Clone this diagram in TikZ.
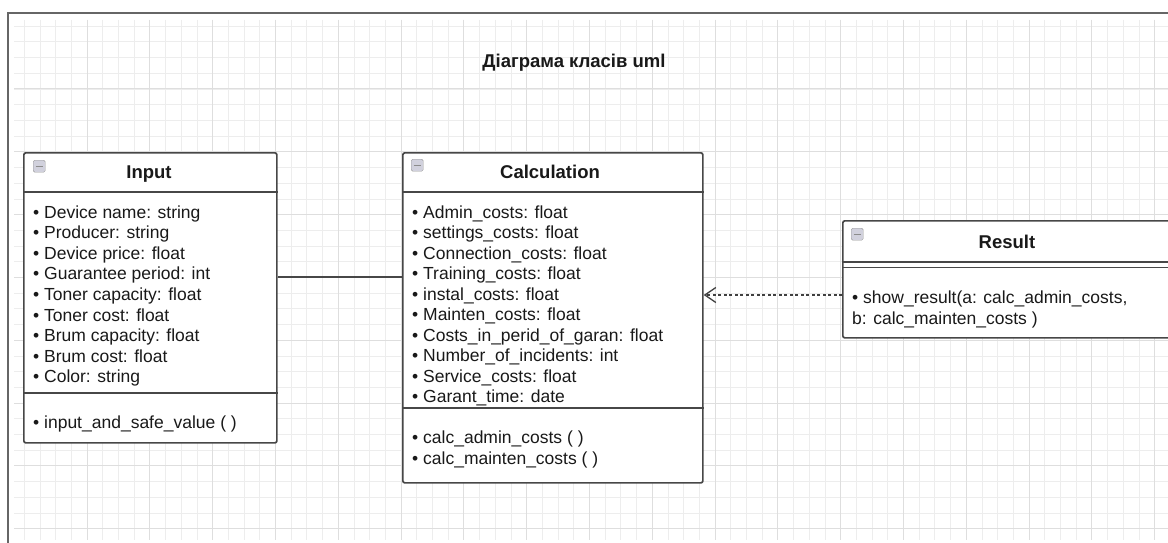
\documentclass[tikz,border=0pt]{standalone}
\usepackage{fontspec}
\setmainfont{Liberation Sans}
\usetikzlibrary{arrows.meta,calc}
\begin{document}
\begin{tikzpicture}[x=1pt,y=-1pt,
  minorgrid/.style={draw=black!7, line width=0.8pt},
  majorgrid/.style={draw=black!13, line width=1pt},
  frameline/.style={draw=black!60, line width=2.4pt},
  classbox/.style={draw=black!72, line width=1.7pt, fill=white, rounded corners=2pt, anchor=north west, inner sep=0pt},
  sepline/.style={draw=black!72, line width=1.7pt},
  depline/.style={draw=black!75, line width=1.2pt, dash pattern=on 3pt off 2.5pt, -{Straight Barb[length=11pt,width=15pt,line width=1.3pt]}},
  attr/.style={anchor=base west, inner sep=0pt, font=\fontsize{17.5}{20}\selectfont, text=black!90},
  head/.style={anchor=base, inner sep=0pt, font=\bfseries\fontsize{18.5}{20}\selectfont, text=black!90},
  diagtitle/.style={anchor=base, inner sep=0pt, font=\bfseries\fontsize{18.5}{20}\selectfont, text=black!90},
  icon/.style={draw=black!40, fill=blue!25!black!18, rounded corners=1.5pt, minimum width=12pt, minimum height=12pt, inner sep=0pt, anchor=north west,
    path picture={\draw[black!45, line width=0.8pt] ($(path picture bounding box.west)+(2.5,0)$) -- ($(path picture bounding box.east)+(-2.5,0)$);}},
]
\useasboundingbox (0,0) rectangle (1168,543);
\fill[white] (0,0) rectangle (1168,543);
\begin{scope}
\clip (0,0) rectangle (1168,543);
% grid
\foreach \i in {0,...,73} \draw[minorgrid] ({24.2+15.7*\i},20) -- ({24.2+15.7*\i},540);
\foreach \i in {0,...,32} \draw[minorgrid] (14,{26.2+15.7*\i}) -- (1168,{26.2+15.7*\i});
\foreach \i in {1,...,18} \draw[majorgrid] ({24.2+62.8*\i},20) -- ({24.2+62.8*\i},540);
\foreach \i in {1,...,8} \draw[majorgrid] (14,{26.2+62.8*\i}) -- (1168,{26.2+62.8*\i});
% frame
\draw[frameline] (8,600) -- (8,13) -- (1200,13);

% title
\node[diagtitle] (title) at (574,68) {Діаграма класів uml};

% Input class
\node[classbox, minimum width=253pt, minimum height=290pt] (input) at (23,152) {};
\draw[sepline] ($(input.north west)+(0,40)$) -- ($(input.north east)+(0,40)$);
\draw[sepline] ($(input.north west)+(0,241)$) -- ($(input.north east)+(0,241)$);
\node[icon] (iconin) at (33,160) {};
\node[head] (inputname) at (149,178.5) {Input};
\foreach \t [count=\i] in {Device name: string, Producer: string, Device price: float, Guarantee period: int, Toner capacity: float, Toner cost: float, Brum capacity: float, Brum cost: float, Color: string}
  \node[attr] (inattr\i) at (33,{218+20.6*(\i-1)}) {• \t};
\node[attr] (inmeth1) at (33,428) {• input\_and\_safe\_value ( )};

% Calculation class
\node[classbox, minimum width=300pt, minimum height=330pt] (calc) at (402,152) {};
\draw[sepline] ($(calc.north west)+(0,40)$) -- ($(calc.north east)+(0,40)$);
\draw[sepline] ($(calc.north west)+(0,256)$) -- ($(calc.north east)+(0,256)$);
\node[icon] (iconcalc) at (411,159) {};
\node[head] (calcname) at (550,178.5) {Calculation};
\foreach \t [count=\i] in {Admin\_costs: float, settings\_costs: float, Connection\_costs: float, Training\_costs: float, instal\_costs: float, Mainten\_costs: float, Costs\_in\_perid\_of\_garan: float, Number\_of\_incidents: int, Service\_costs: float, Garant\_time: date}
  \node[attr] (calcattr\i) at (412,{218+20.55*(\i-1)}) {• \t};
\node[attr] (calcmeth1) at (412,443) {• calc\_admin\_costs ( )};
\node[attr] (calcmeth2) at (412,464) {• calc\_mainten\_costs ( )};

% Result class
\node[classbox, minimum width=345pt, minimum height=117pt] (result) at (842,220) {};
\draw[sepline] ($(result.north west)+(0,42)$) -- ($(result.north east)+(0,42)$);
\draw[sepline] ($(result.north west)+(0,47.5)$) -- ($(result.north east)+(0,47.5)$);
\node[icon] (iconres) at (851,228) {};
\node[head] (resname) at (1007,248) {Result};
\node[attr] (resmeth1) at (852,303) {• show\_result(a: calc\_admin\_costs,};
\node[attr] (resmeth2) at (852,324) {b: calc\_mainten\_costs )};

% connectors
\draw[sepline] ($(input.north east)+(0,125)$) -- ($(calc.north west)+(0,125)$);
\draw[depline] ($(result.north west)+(0,75)$) -- ($(calc.north east)+(0,143)$);
\end{scope}
\end{tikzpicture}
\end{document}
